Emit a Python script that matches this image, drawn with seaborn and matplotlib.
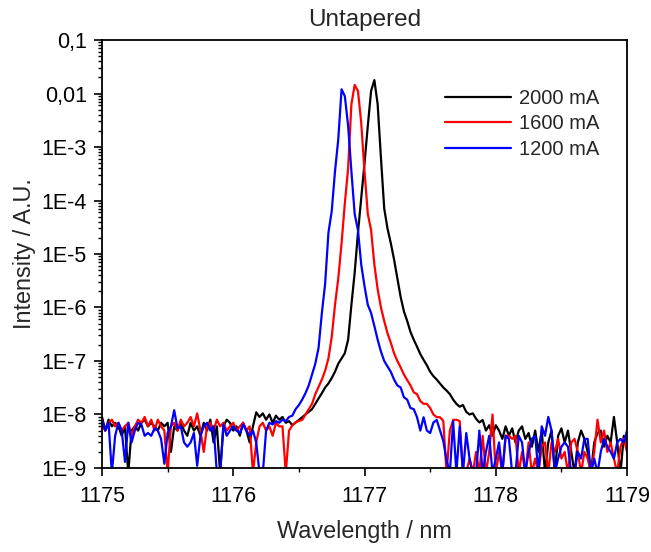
import pandas as pd
import matplotlib
matplotlib.use("Agg")
import matplotlib.pyplot as plt
import seaborn as sns
from matplotlib.ticker import LogLocator, MultipleLocator, NullFormatter

# --- DATA (0.025 nm grid) ---
WAVELENGTH = [
    1175.000, 1175.025, 1175.050, 1175.075, 1175.100, 1175.125, 1175.150, 1175.175, 1175.200, 1175.225,
    1175.250, 1175.275, 1175.300, 1175.325, 1175.350, 1175.375, 1175.400, 1175.425, 1175.450, 1175.475,
    1175.500, 1175.525, 1175.550, 1175.575, 1175.600, 1175.625, 1175.650, 1175.675, 1175.700, 1175.725,
    1175.750, 1175.775, 1175.800, 1175.825, 1175.850, 1175.875, 1175.900, 1175.925, 1175.950, 1175.975,
    1176.000, 1176.025, 1176.050, 1176.075, 1176.100, 1176.125, 1176.150, 1176.175, 1176.200, 1176.225,
    1176.250, 1176.275, 1176.300, 1176.325, 1176.350, 1176.375, 1176.400, 1176.425, 1176.450, 1176.475,
    1176.500, 1176.525, 1176.550, 1176.575, 1176.600, 1176.625, 1176.650, 1176.675, 1176.700, 1176.725,
    1176.750, 1176.775, 1176.800, 1176.825, 1176.850, 1176.875, 1176.900, 1176.925, 1176.950, 1176.975,
    1177.000, 1177.025, 1177.050, 1177.075, 1177.100, 1177.125, 1177.150, 1177.175, 1177.200, 1177.225,
    1177.250, 1177.275, 1177.300, 1177.325, 1177.350, 1177.375, 1177.400, 1177.425, 1177.450, 1177.475,
    1177.500, 1177.525, 1177.550, 1177.575, 1177.600, 1177.625, 1177.650, 1177.675, 1177.700, 1177.725,
    1177.750, 1177.775, 1177.800, 1177.825, 1177.850, 1177.875, 1177.900, 1177.925, 1177.950, 1177.975,
    1178.000, 1178.025, 1178.050, 1178.075, 1178.100, 1178.125, 1178.150, 1178.175, 1178.200, 1178.225,
    1178.250, 1178.275, 1178.300, 1178.325, 1178.350, 1178.375, 1178.400, 1178.425, 1178.450, 1178.475,
    1178.500, 1178.525, 1178.550, 1178.575, 1178.600, 1178.625, 1178.650, 1178.675, 1178.700, 1178.725,
    1178.750, 1178.775, 1178.800, 1178.825, 1178.850, 1178.875, 1178.900, 1178.925, 1178.950, 1178.975,
    1179.000,
]

I_2000 = [
    9e-9, 5e-9, 8e-9, 6e-9, 7e-9, 6e-9, 4e-9, 6e-9, 8e-10, 5e-9,
    6e-9, 5e-9, 7e-9, 8e-9, 6e-9, 7e-9, 6e-9, 5e-9, 7e-9, 6e-9,
    7e-9, 2e-9, 6e-9, 5e-9, 7e-9, 5e-9, 4e-9, 7e-9, 5e-9, 6e-9,
    4e-9, 7e-9, 5e-9, 8e-9, 3e-9, 6e-9, 8e-10, 6e-9, 8e-9, 7e-9,
    5e-9, 6e-9, 4e-9, 7e-9, 5e-9, 3e-9, 6e-9, 1.1e-8, 9e-9, 1.05e-8,
    8e-9, 1.0e-8, 7e-9, 9.5e-9, 8e-9, 9e-9, 7e-9, 7.5e-9, 6.3e-9, 7.1e-9,
    7.9e-9, 8.9e-9, 1.0e-8, 1.12e-8, 1.26e-8, 1.58e-8, 2.0e-8, 2.5e-8, 3.2e-8, 3.8e-8,
    4.8e-8, 6.3e-8, 8.9e-8, 1.12e-7, 1.4e-7, 2.5e-7, 1.12e-6, 4.5e-6, 2.5e-5, 1.12e-4,
    5.0e-4, 2.5e-3, 1.12e-2, 1.78e-2, 6.3e-3, 6.3e-4, 7.1e-5, 3.0e-5, 1.6e-5, 7.9e-6,
    3.5e-6, 1.58e-6, 8.5e-7, 5.6e-7, 3.5e-7, 2.5e-7, 1.85e-7, 1.35e-7, 1.05e-7, 8.3e-8,
    6.3e-8, 5.2e-8, 4.5e-8, 3.8e-8, 3.2e-8, 2.8e-8, 2.4e-8, 1.9e-8, 1.58e-8, 1.4e-8,
    1.5e-8, 1.12e-8, 1.0e-8, 1.05e-8, 8.3e-9, 7.1e-9, 7.9e-9, 5.0e-9, 6.3e-9, 4.0e-9,
    6.3e-9, 5e-9, 3.5e-9, 6e-9, 4e-9, 5.5e-9, 3e-9, 5e-9, 6e-9, 3.5e-9,
    4.5e-9, 2.5e-9, 5e-9, 2e-9, 5e-9, 8e-10, 3e-9, 5e-9, 8e-10, 4e-9,
    5.5e-9, 3e-9, 5e-9, 2e-9, 8e-10, 3e-9, 5e-9, 3.5e-9, 2e-9, 8e-10,
    3e-9, 4.5e-9, 5e-9, 2.5e-9, 4e-9, 3e-9, 9e-9, 3e-9, 8e-10, 4e-9,
    3e-9,
]

I_1600 = [
    6e-9, 5e-9, 7e-9, 8e-9, 6e-9, 7e-9, 5e-9, 6e-9, 7e-9, 4e-9,
    6e-9, 8e-9, 7e-9, 9e-9, 6e-9, 8e-9, 5e-9, 8e-9, 6e-9, 5e-9,
    8e-10, 6e-9, 7e-9, 5e-9, 8e-9, 6e-9, 7e-9, 9e-9, 6e-9, 1.05e-8,
    5e-9, 2e-9, 6e-9, 7e-9, 5e-9, 8e-9, 6e-9, 7e-9, 5e-9, 6e-9,
    7e-9, 5e-9, 6e-9, 7e-9, 5e-9, 6e-9, 8e-10, 3e-9, 6e-9, 7e-9,
    5e-9, 6e-9, 4e-9, 7e-9, 6e-9, 6e-9, 8e-10, 5e-9, 6.3e-9, 7.1e-9,
    7.6e-9, 7.9e-9, 1.0e-8, 1.26e-8, 1.58e-8, 2.4e-8, 3.3e-8, 4.5e-8, 6.6e-8, 1.12e-7,
    2.8e-7, 1.12e-6, 3.5e-6, 1.58e-5, 8.9e-5, 4.0e-4, 6.3e-3, 1.45e-2, 1.12e-2, 2.8e-3,
    3.5e-4, 5.6e-5, 2.8e-5, 6.3e-6, 2.2e-6, 1.0e-6, 5.6e-7, 3.3e-7, 2.2e-7, 1.4e-7,
    1.0e-7, 7.6e-8, 5.6e-8, 4.4e-8, 3.5e-8, 2.6e-8, 2.4e-8, 1.78e-8, 1.58e-8, 1.58e-8,
    1.32e-8, 1.0e-8, 8.9e-9, 8.9e-9, 7.6e-9, 8e-10, 5e-9, 7.9e-9, 8e-9, 7.5e-9,
    8e-10, 8e-10, 1.5e-9, 8e-10, 2e-9, 8e-10, 4e-9, 8e-10, 2e-9, 1.0e-8,
    8e-10, 2e-9, 8e-10, 4e-9, 4e-9, 3.5e-9, 4e-9, 8e-10, 2e-9, 8e-10,
    3e-9, 8e-10, 1.5e-9, 8e-10, 2.5e-9, 3e-9, 8e-10, 3e-9, 2e-9, 3.5e-9,
    1.5e-9, 2e-9, 8e-10, 3e-9, 3.5e-9, 2e-9, 8e-10, 2e-9, 1.5e-9, 8e-10,
    2e-9, 8e-9, 3e-9, 5e-9, 2e-9, 3e-9, 1.5e-9, 8e-10, 2.5e-9, 3.5e-9,
    2e-9,
]

I_1200 = [
    8e-9, 5e-9, 7e-9, 8e-10, 4e-9, 7e-9, 5e-9, 1.3e-9, 7e-9, 3e-9,
    5e-9, 7e-9, 6.5e-9, 4e-9, 4.5e-9, 4e-9, 5.5e-9, 5e-9, 3.5e-9, 1.2e-9,
    4.5e-9, 6e-9, 1.2e-8, 5.5e-9, 6e-9, 3e-9, 2.5e-9, 3e-9, 4.5e-9, 1.1e-9,
    4e-9, 6e-9, 7e-9, 5e-9, 6e-9, 8e-10, 8e-10, 6.5e-9, 4e-9, 5e-9,
    6e-9, 5e-9, 4.5e-9, 6.5e-9, 5e-9, 4e-9, 5e-9, 3e-9, 8e-10, 8e-10,
    5e-9, 7e-9, 6.5e-9, 7.5e-9, 7e-9, 8e-9, 7.5e-9, 9e-9, 9.5e-9, 1.26e-8,
    1.5e-8, 1.9e-8, 2.5e-8, 3.5e-8, 5.6e-8, 8.9e-8, 1.78e-7, 7.9e-7, 2.8e-6, 2.5e-5,
    6.3e-5, 3.5e-4, 1.4e-3, 1.2e-2, 8.9e-3, 2.5e-3, 3.5e-4, 5.6e-5, 2.8e-5, 6.3e-6,
    2.5e-6, 1.12e-6, 7.9e-7, 4.5e-7, 2.5e-7, 1.5e-7, 1.0e-7, 7.9e-8, 6.3e-8, 4.5e-8,
    3.5e-8, 3.2e-8, 2.1e-8, 1.9e-8, 1.32e-8, 1.26e-8, 8.9e-9, 5.0e-9, 8.9e-9, 5.0e-9,
    4.5e-9, 7.1e-9, 7.9e-9, 5.0e-9, 3.2e-9, 1.4e-9, 8e-10, 7.5e-9, 8e-10, 6e-9,
    8e-10, 4.5e-9, 1.5e-9, 8e-10, 8e-10, 5e-9, 8e-10, 2e-9, 4e-9, 8e-10,
    1.5e-9, 3e-9, 8e-10, 4e-9, 3.5e-9, 8e-10, 8e-10, 4e-9, 3e-9, 8e-10,
    2e-9, 3.5e-9, 4e-9, 8e-10, 6e-9, 4e-9, 9e-9, 5e-9, 8e-10, 1.5e-9,
    2.5e-9, 3e-9, 2.5e-9, 8e-10, 8e-10, 2e-9, 1.5e-9, 3.5e-9, 3.5e-9, 8e-10,
    1.5e-9, 8e-10, 2e-9, 3.5e-9, 2.5e-9, 2e-9, 1.5e-9, 3e-9, 3.5e-9, 3e-9,
    5e-9,
]

SERIES = ["2000 mA", "1600 mA", "1200 mA"]
COLORS = ["#000000", "#ff0000", "#0000ff"]
X_TICKS = [1175, 1176, 1177, 1178, 1179]
Y_TICKS = [1e-9, 1e-8, 1e-7, 1e-6, 1e-5, 1e-4, 1e-3, 1e-2, 1e-1]
Y_LABELS = ["1E-9", "1E-8", "1E-7", "1E-6", "1E-5", "1E-4", "1E-3", "0,01", "0,1"]


def build_frame():
    parts = []
    for name, vals in zip(SERIES, [I_2000, I_1600, I_1200]):
        n = min(len(WAVELENGTH), len(vals))
        if n != len(WAVELENGTH) or n != len(vals):
            print("length mismatch", name, len(WAVELENGTH), len(vals))
        parts.append(pd.DataFrame({"Wavelength": WAVELENGTH[:n],
                                   "Intensity": vals[:n],
                                   "Current": name}))
    return pd.concat(parts, ignore_index=True)


df = build_frame()

sns.set_style("ticks")
plt.rcParams["font.family"] = ["Liberation Sans", "DejaVu Sans"]

fig = plt.figure(figsize=(6.51, 5.52), dpi=100)
ax = fig.add_axes([0.1567, 0.1522, 0.8065, 0.7753])

sns.lineplot(data=df, x="Wavelength", y="Intensity", hue="Current",
             hue_order=SERIES, palette=COLORS, estimator=None,
             linewidth=1.6, ax=ax)

ax.set_yscale("log")
ax.set_xlim(1175, 1179)
ax.set_ylim(1e-9, 0.1)

ax.set_xticks(X_TICKS, [str(t) for t in X_TICKS])
ax.xaxis.set_minor_locator(MultipleLocator(0.5))
ax.set_yticks(Y_TICKS, Y_LABELS)
ax.yaxis.set_minor_locator(LogLocator(base=10, subs=[2, 3, 4, 5, 6, 7, 8, 9], numticks=20))
ax.yaxis.set_minor_formatter(NullFormatter())

ax.tick_params(axis="both", which="major", direction="out", length=6, width=1.2,
               labelsize=15.5, color="black", labelcolor="black")
ax.tick_params(axis="both", which="minor", direction="out", length=3, width=1.0, color="black")
ax.tick_params(axis="x", which="major", pad=7)
ax.tick_params(axis="y", which="major", pad=5)

for side in ["left", "bottom", "top", "right"]:
    ax.spines[side].set_color("black")
    ax.spines[side].set_linewidth(1.3)

ax.set_xlabel("Wavelength / nm", fontsize=16.8, labelpad=9)
ax.set_ylabel("Intensity / A.U.", fontsize=16.8, labelpad=4)
ax.set_title("Untapered", fontsize=17.5, pad=10)

ax.legend(frameon=False, loc="upper left", bbox_to_anchor=(0.653, 0.886),
          fontsize=14.5, handlelength=3.3, handletextpad=0.4, labelspacing=0.33,
          borderpad=0, borderaxespad=0)

fig.savefig("out.png", dpi=100)
